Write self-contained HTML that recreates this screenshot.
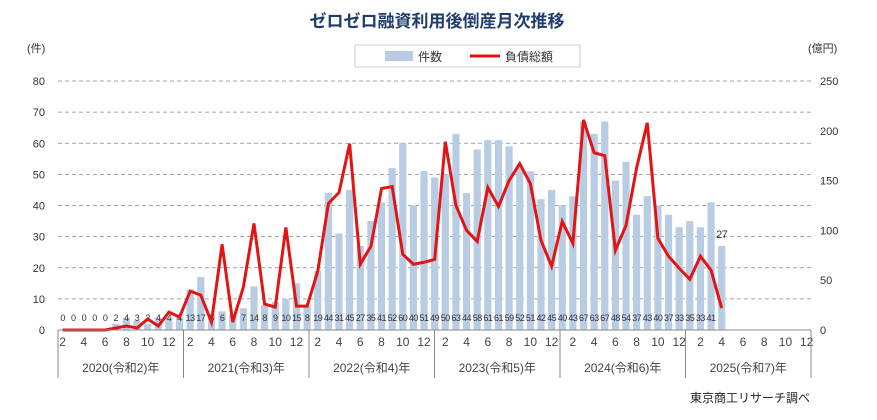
<!DOCTYPE html>
<html><head><meta charset="utf-8"><style>
body{margin:0;background:#fff;font-family:"Liberation Sans","Noto Sans CJK JP",sans-serif}
svg text{font-family:"Liberation Sans","Noto Sans CJK JP",sans-serif}
</style></head><body>
<svg id="c" width="877" height="415">
<text x="437" y="27" text-anchor="middle" font-size="17" font-weight="bold" fill="#1f3c6e">ゼロゼロ融資利用後倒産月次推移</text>
<g>
<rect x="355" y="45" width="225" height="22" fill="#fff" stroke="#ccc"/>
<rect x="385" y="51" width="28" height="10" fill="#b8cce4"/>
<text x="418" y="61" font-size="12" fill="#333">件数</text>
<line x1="470" y1="56" x2="500" y2="56" stroke="#e31414" stroke-width="3"/>
<text x="505" y="61" font-size="12" fill="#333">負債総額</text>
</g>
<text x="27" y="52" font-size="11" fill="#333">(件)</text>
<text x="808" y="52" font-size="11" fill="#333">(億円)</text>
<text x="810" y="402" text-anchor="end" font-size="12" fill="#222">東京商工リサーチ調べ</text>
<g id="g"></g>
</svg>
<script>
const counts=[0,0,0,0,0,0,2,4,3,2,4,4, 4,13,17,5,6,5,7,14,8,9,10,15, 8,19,44,31,45,27,35,41,52,60,40,51, 49,50,63,44,58,61,61,59,52,51,42,45, 40,43,67,63,67,48,54,37,43,40,37,33, 35,33,41,27];
const amounts=[0,0,0,0,0,0,2,4,2,11,4,18, 13,39,35,8,86,8,43,107,26,23,103,24, 24,59,127,138,187,66,84,142,144,76,66,68, 71,189,125,100,89,143,124,150,167,147,90,64, 109,87,211,178,175,80,105,163,208,92,74,62, 51,74,60,22];
const leftTicks=[0,10,20,30,40,50,60,70,80];
const rightTicks=[0,50,100,150,200,250];
const years=["2020(令和2)年","2021(令和3)年","2022(令和4)年","2023(令和5)年","2024(令和6)年","2025(令和7)年"];
const monthLabels=["2","4","6","8","10","12"];
const X0=58,X1=811,Y0=330,Y1=81,NM=72;
const CX0=52,CW=10.63;
const xc=i=>CX0+i*CW;
const yw=(X1-X0)/6;
const yl=v=>Y0-(v/80)*(Y0-Y1);
const yr=v=>Y0-(v/250)*(Y0-Y1);
const g=document.getElementById('g');
const NS='http://www.w3.org/2000/svg';
function mk(t,a,txt){const e=document.createElementNS(NS,t);for(const k in a)e.setAttribute(k,a[k]);if(txt!==undefined)e.textContent=txt;g.appendChild(e);return e;}
leftTicks.forEach(v=>{
  if(v>0){const l=mk('line',{x1:X0,x2:X1,y1:yl(v),y2:yl(v),stroke:'#888','stroke-dasharray':'4,3','stroke-width':0.8});
  
  }
  const t=mk('text',{x:45,y:yl(v)+4,'text-anchor':'end','font-size':11,fill:'#333'},v);
  
  
});
rightTicks.forEach(v=>{
  const t=mk('text',{x:820,y:yr(v)+4,'font-size':11,fill:'#333'},v);
  
  
});
counts.forEach((v,i)=>{
  if(i===0)return;
  const b=mk('rect',{x:xc(i)-3.6,y:yl(v),width:7.2,height:Y0-yl(v),fill:'#b8cce4'});
  
  
  const last=i===counts.length-1;
  const t=mk('text',{x:xc(i),y:last?yl(v)-8:321,'text-anchor':'middle','font-size':last?11:9,fill:'#333','letter-spacing':'-0.5'},v);
  
  
});
const pl=mk('polyline',{points:amounts.map((v,i)=>i===0?'':xc(i)+','+yr(v)).join(' ').trim(),fill:'none',stroke:'#e31414','stroke-width':3,'stroke-linejoin':'miter'});


const ax=mk('line',{x1:X0,x2:X1,y1:Y0,y2:Y0,stroke:'#888'});


for(let i=0;i<NM;i++){
  if(i%2===1){const t=mk('text',{x:xc(i),y:346,'text-anchor':'middle','font-size':12,fill:'#444'},monthLabels[(i%12-1)/2]);
  
  }
}
for(let y=0;y<=years.length;y++){
  const x=X0+y*yw;
  const l=mk('line',{x1:x,x2:x,y1:Y0,y2:378,stroke:'#888'});
  
  
  if(y<years.length){const t=mk('text',{x:x+yw/2,y:372,'text-anchor':'middle','font-size':12,fill:'#444'},years[y]);
  
  }
}
</script>
</body></html>
